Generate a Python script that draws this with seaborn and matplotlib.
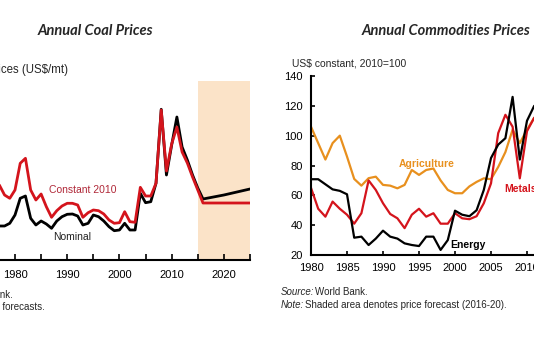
import numpy as np
import pandas as pd
import matplotlib
matplotlib.use('Agg')
import matplotlib.pyplot as plt
import seaborn as sns

# ---- coal panel data (US$/mt) ----
coal_years = list(range(1977, 2017)) + [2020, 2025]
coal_nominal = [34, 34, 36.7, 45, 61.7, 64, 41.7, 35, 39, 36, 31.7, 39, 43.3, 45.7, 46, 44,
                35, 36.7, 45, 43.3, 39, 33.3, 29.3, 30, 36.7, 30, 30, 66.7, 57.3, 58.3, 76.7,
                150.7, 85, 115, 143, 113, 100, 85, 72, 61, 65, 71]
coal_constant = [75, 65, 61.7, 70, 96.7, 101.7, 70, 60, 66, 53.3, 42.7, 49.3, 54, 56.7, 56.7, 55,
                 42.7, 47.3, 50, 49.3, 46, 40, 36.7, 37.3, 48.3, 38.3, 37.7, 72.7, 64, 64, 76.7,
                 150, 89, 116, 133, 108, 97, 83, 70, 57, 57, 57]

# ---- commodities panel data (US$ constant, 2010=100) ----
com_years = list(range(1980, 2012))
agriculture = [106, 95, 84, 95, 100, 86, 71, 66.5, 71.5, 72.5, 67, 66.5, 64.7, 67, 77, 73.7,
               77, 78, 70, 63.6, 61.4, 61.4, 66, 69, 71.4, 70.8, 79, 89, 104, 95, 104, 112]
metals = [65, 51, 45.7, 55.8, 51, 47, 41, 48, 70, 63.6, 54.7, 47.5, 44.6, 38, 47, 51,
          45.7, 48, 41, 41, 48, 44.6, 44, 46, 54.7, 68, 101.7, 114, 106, 71.4, 103, 112]
energy = [70.8, 70.8, 67.4, 64, 63, 60.7, 31.6, 32.3, 26.7, 31, 36.3, 32.3, 31, 27.8, 26.7, 26,
          32.3, 32.3, 23.4, 30, 49.7, 47, 46, 50, 63.6, 85, 94, 98.3, 126, 84, 110, 120]

coal = pd.DataFrame({'year': coal_years, 'Nominal': coal_nominal, 'Constant 2010': coal_constant})
com = pd.DataFrame({'year': com_years, 'Agriculture': agriculture, 'Metals': metals, 'Energy': energy})

sns.set_style('white')
plt.rcParams['font.family'] = ['Liberation Sans', 'DejaVu Sans']

W, H = 534, 352
fig = plt.figure(figsize=(W / 100, H / 100), dpi=100)


def px_axes(left, top, right, bottom):
    return fig.add_axes([left / W, 1 - bottom / H, (right - left) / W, (bottom - top) / H])


RED = '#d4141c'
ORANGE = '#e8901e'

# ==================== left: coal ====================
ax1 = px_axes(15 - 4 * 5.222, 81, 250, 260)
ax1.axvspan(2015, 2025, color='#fbe3c8', lw=0, zorder=0)
sns.lineplot(data=coal, x='year', y='Nominal', ax=ax1, color='black', lw=2.0)
sns.lineplot(data=coal, x='year', y='Constant 2010', ax=ax1, color=RED, lw=2.0)
ax1.set_xlim(1976, 2025)
ax1.set_ylim(0, 179)
ax1.set_xticks(range(1980, 2026, 5))
ax1.set_xticklabels(['1980', '', '1990', '', '2000', '', '2010', '', '2020', ''])
ax1.set_yticks([])
ax1.set_xlabel('')
ax1.set_ylabel('')
for s in ['left', 'top', 'right']:
    ax1.spines[s].set_visible(False)
ax1.spines['bottom'].set_color('black')
ax1.spines['bottom'].set_linewidth(1.5)
ax1.tick_params(axis='x', direction='in', length=4, width=1.2, colors='black',
                labelsize=8, pad=7, bottom=True)
ax1.text(1986.6, 70, 'Constant 2010', color='#b02838', fontsize=7.5, ha='left', va='center')
ax1.text(1991, 23, 'Nominal', color='#222222', fontsize=7.5, ha='center', va='center')

# ==================== right: commodities ====================
ax2 = px_axes(311, 76, 311 + 40 * 7.2, 255)
sns.lineplot(data=com, x='year', y='Agriculture', ax=ax2, color=ORANGE, lw=1.6)
sns.lineplot(data=com, x='year', y='Metals', ax=ax2, color=RED, lw=1.6)
sns.lineplot(data=com, x='year', y='Energy', ax=ax2, color='black', lw=1.6)
ax2.set_xlim(1980, 2020)
ax2.set_ylim(20, 140)
ax2.set_xticks(range(1980, 2021, 5))
ax2.set_yticks(range(20, 141, 20))
ax2.set_xlabel('')
ax2.set_ylabel('')
for s in ['top', 'right']:
    ax2.spines[s].set_visible(False)
for s in ['left', 'bottom']:
    ax2.spines[s].set_color('black')
    ax2.spines[s].set_linewidth(1.5)
ax2.tick_params(direction='in', length=3, width=1.2, colors='black', labelsize=8,
                left=True, bottom=True)
ax2.tick_params(axis='x', pad=6)
ax2.tick_params(axis='y', pad=6)
ax2.text(1992.2, 81, 'Agriculture', color=ORANGE, fontsize=7.5, fontweight='bold', va='center')
ax2.text(1999.4, 27, 'Energy', color='black', fontsize=7.5, fontweight='bold', va='center')
ax2.text(2006.9, 64, 'Metals', color=RED, fontsize=7.5, fontweight='bold', va='center')

# ==================== titles, labels, notes ====================
title_font = dict(family='Lato', style='italic', fontweight='bold', fontsize=10.5)
fig.text(95 / W, 1 - 31 / H, 'Annual Coal Prices', ha='center', va='center', **title_font)
fig.text(446 / W, 1 - 31 / H, 'Annual Commodities Prices', ha='center', va='center', **title_font)
fig.text(68 / W, 1 - 70 / H, 'Coal prices (US$/mt)', ha='right', va='center', fontsize=8.3)
fig.text(292 / W, 1 - 63 / H, 'US$ constant, 2010=100', ha='left', va='center', fontsize=7.5)

fig.text(281 / W, 1 - 292 / H, 'Source:', ha='left', va='center', fontsize=7, style='italic')
fig.text(315 / W, 1 - 292 / H, 'World Bank.', ha='left', va='center', fontsize=7)
fig.text(281 / W, 1 - 305 / H, 'Note:', ha='left', va='center', fontsize=7, style='italic')
fig.text(305 / W, 1 - 305 / H, 'Shaded area denotes price forecast (2016-20).',
         ha='left', va='center', fontsize=7)
fig.text(13 / W, 1 - 295 / H, 'Source: World Bank.', ha='right', va='center', fontsize=7)
fig.text(45 / W, 1 - 307 / H, 'Note: Shaded areas denote forecasts.', ha='right', va='center',
         fontsize=7)

fig.savefig('out.png', dpi=100)
